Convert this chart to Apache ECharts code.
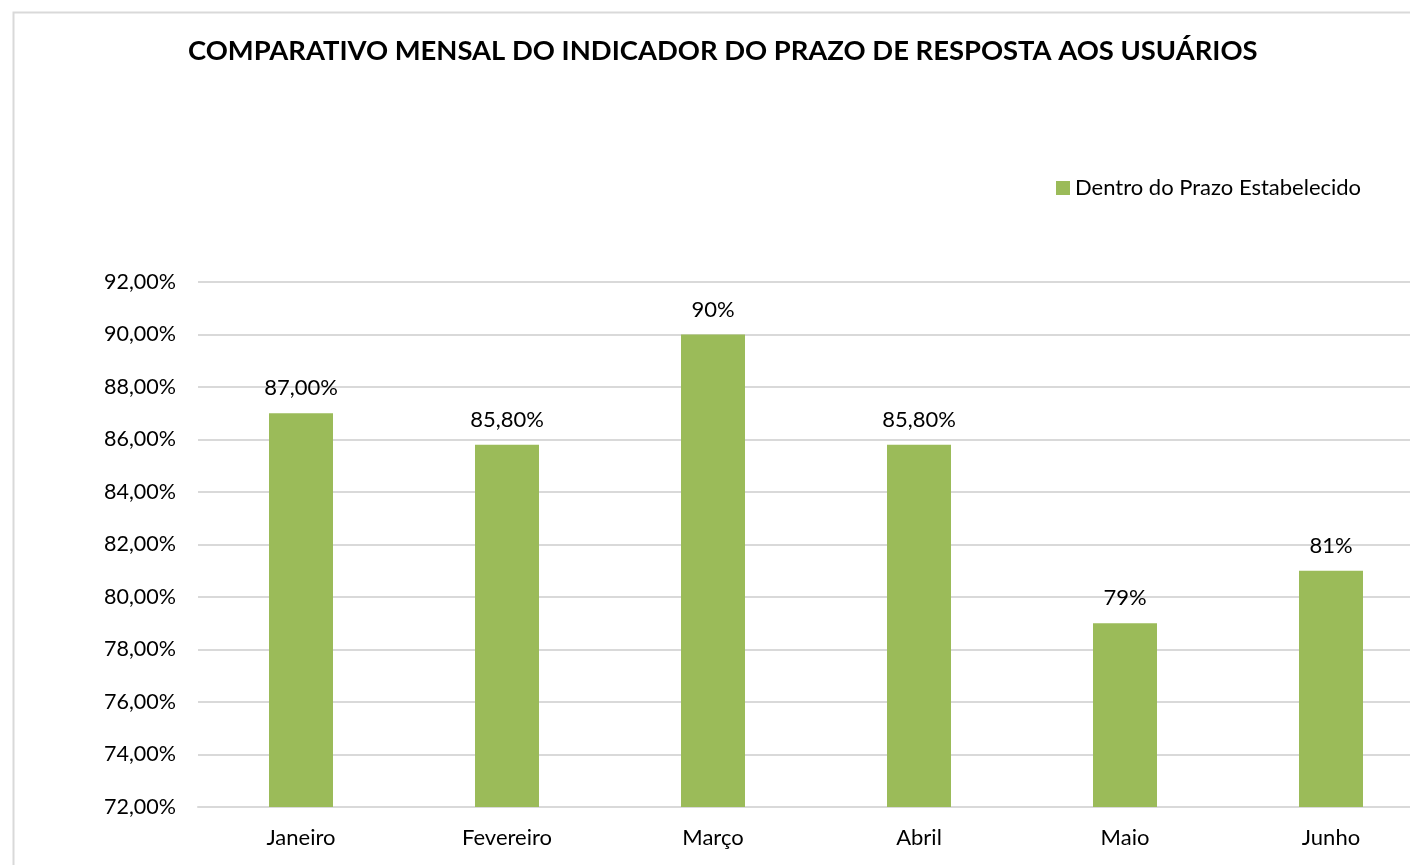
<!DOCTYPE html>
<html>
<head>
<meta charset="utf-8">
<script src="https://cdn.jsdelivr.net/npm/echarts@6/dist/echarts.min.js"></script>
<style>html,body{margin:0;padding:0;background:#fff;}#c{width:1410px;height:865px;}</style>
</head>
<body>
<div id="c"></div>
<script>
const titleText = 'COMPARATIVO MENSAL DO INDICADOR DO PRAZO DE RESPOSTA AOS USUÁRIOS';
const seriesName = 'Dentro do Prazo Estabelecido';
const categories = ['Janeiro', 'Fevereiro', 'Março', 'Abril', 'Maio', 'Junho'];
const values = [87.0, 85.8, 90.0, 85.8, 79.0, 81.0];
const valueLabels = ['87,00%', '85,80%', '90%', '85,80%', '79%', '81%'];
const yMin = 72, yMax = 92, yStep = 2;

const FONT = 'Lato, "Open Sans", sans-serif';
const chart = echarts.init(document.getElementById('c'), null, {renderer: 'canvas'});
chart.setOption({
  animation: false,
  backgroundColor: '#ffffff',
  graphic: [{
    type: 'rect', left: 11, top: 10, silent: true, z: -10,
    shape: {width: 1430, height: 880},
    style: {fill: 'none', stroke: '#d9d9d9', lineWidth: 2}
  }],
  title: {
    text: titleText, left: 183, top: 33,
    textStyle: {fontFamily: FONT, fontWeight: 'bold', fontSize: 27.4, color: '#000'}
  },
  legend: {
    data: [seriesName], left: 1056, top: 177, padding: 0, itemWidth: 14, itemHeight: 14, icon: 'rect',
    textStyle: {fontFamily: FONT, fontSize: 22, color: '#000'}
  },
  grid: {left: 198, top: 282, width: 1236, height: 525, outerBoundsMode: 'none'},
  xAxis: {
    type: 'category', data: categories,
    axisLine: {lineStyle: {color: '#d9d9d9', width: 2}},
    axisTick: {show: false},
    axisLabel: {fontFamily: FONT, fontSize: 22, color: '#000', margin: 20}
  },
  yAxis: {
    type: 'value', min: yMin, max: yMax, interval: yStep,
    axisLine: {show: false}, axisTick: {show: false},
    splitLine: {lineStyle: {color: '#d9d9d9', width: 2}},
    axisLabel: {fontFamily: FONT, fontSize: 21.5, color: '#000', margin: 22,
      formatter: v => v.toFixed(2).replace('.', ',') + '%'}
  },
  series: [{
    name: seriesName, type: 'bar', data: values, barWidth: 64,
    itemStyle: {color: '#9bbb59'},
    label: {show: true, position: 'top', distance: 14, fontFamily: FONT, fontSize: 22, color: '#000',
      formatter: p => valueLabels[p.dataIndex]}
  }]
});
</script>
</body>
</html>
